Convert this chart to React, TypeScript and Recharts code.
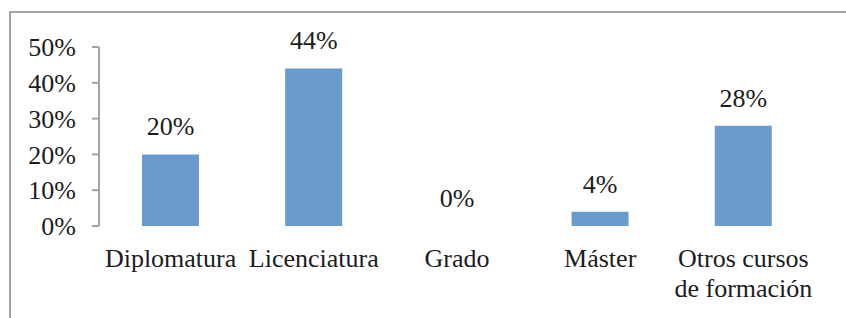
import {
  Bar,
  ComposedChart,
  LabelList,
  Line,
  Text,
  XAxis,
  YAxis,
} from "recharts";

const CATEGORIES = [
  "Diplomatura",
  "Licenciatura",
  "Grado",
  "Máster",
  "Otros cursos de formación",
];
const SHARES = [20, 44, 0, 4, 28];
const Y_TICKS = [0, 10, 20, 30, 40, 50];
const EDGE_TICKS = [0, 1, 2, 3, 4, 5];

const BLUE = "#6a9bcd";
const AXIS = "#a3a3a3";
const INK = "#1c1c1c";
const FONT = '"Liberation Serif", "Times New Roman", Times, serif';
const TEXT_STYLE = { fontSize: "26px", fontFamily: FONT };

const data = CATEGORIES.map((name, i) => ({ name, value: SHARES[i] }));

function CategoryTick(props: any) {
  const { x, y, payload } = props;
  return (
    <Text
      x={x}
      y={y}
      width={145}
      textAnchor="middle"
      verticalAnchor="start"
      lineHeight={30}
      fill={INK}
      style={TEXT_STYLE}
    >
      {payload.value}
    </Text>
  );
}

export default function App() {
  return (
    <div
      style={{
        position: "absolute",
        left: 0,
        top: 0,
        width: 846,
        height: 318,
        overflow: "hidden",
        background: "#fff",
        fontFamily: FONT,
      }}
    >
      <div
        style={{
          position: "absolute",
          left: 9,
          top: 11,
          width: 900,
          height: 400,
          borderLeft: `2px solid ${AXIS}`,
          borderTop: `2px solid ${AXIS}`,
        }}
      />
      <div style={{ position: "absolute", left: 0, top: 0 }}>
        <ComposedChart
          width={846}
          height={318}
          data={data}
          margin={{ top: 47, right: 31, left: 19, bottom: 12 }}
          barCategoryGap="30%"
        >
          <XAxis
            xAxisId="edge"
            type="number"
            domain={[0, 5]}
            allowDataOverflow
            ticks={EDGE_TICKS}
            height={0}
            tick={false}
            tickSize={7}
            axisLine={{ stroke: AXIS, strokeWidth: 2 }}
            tickLine={{ stroke: AXIS, strokeWidth: 2 }}
          />
          <XAxis
            xAxisId="cat"
            dataKey="name"
            height={80}
            interval={0}
            axisLine={false}
            tickLine={false}
            tickSize={0}
            tickMargin={23}
            tick={<CategoryTick />}
          />
          <YAxis
            width={80}
            domain={[0, 50]}
            ticks={Y_TICKS}
            tickFormatter={(v: number) => `${v}%`}
            tickSize={7}
            tickMargin={16}
            axisLine={{ stroke: AXIS, strokeWidth: 2 }}
            tickLine={{ stroke: AXIS, strokeWidth: 2 }}
            tick={{ fill: INK, style: TEXT_STYLE }}
          />
          <Bar
            xAxisId="cat"
            dataKey="value"
            fill={BLUE}
            isAnimationActive={false}
          />
          <Line
            xAxisId="cat"
            dataKey="value"
            stroke="none"
            dot={false}
            activeDot={false}
            isAnimationActive={false}
          >
            <LabelList
              dataKey="value"
              position="top"
              offset={19}
              formatter={(v: any) => `${v}%`}
              fill={INK}
              style={TEXT_STYLE}
            />
          </Line>
        </ComposedChart>
      </div>
    </div>
  );
}
